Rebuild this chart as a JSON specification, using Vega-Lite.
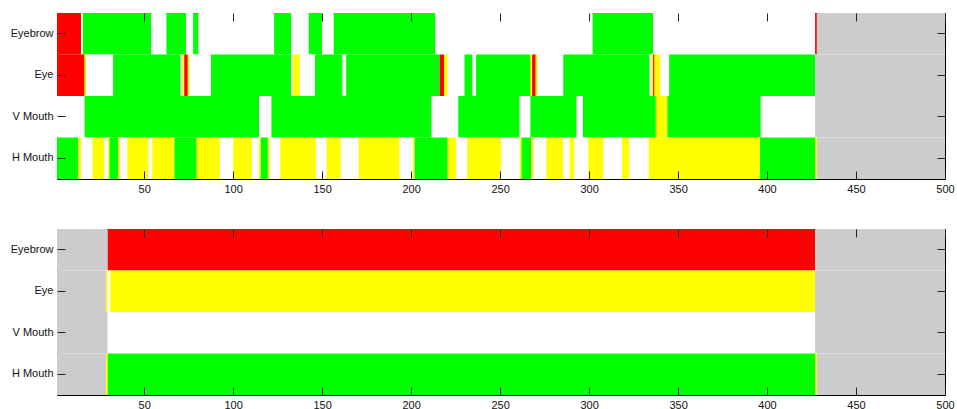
{
  "$schema": "https://vega.github.io/schema/vega-lite/v6.json",
  "background": "white",
  "padding": {"left": 9, "top": 12, "right": 0, "bottom": 0},
  "autosize": {"type": "pad"},
  "bounds": "flush",
  "spacing": 50,
  "config": {
    "view": {"stroke": "#000", "strokeWidth": 1},
    "axis": {
      "labelFont": "Liberation Sans",
      "labelFontSize": 11,
      "labelColor": "#111",
      "tickColor": "#222",
      "tickSize": -8,
      "tickWidth": 1,
      "labelPadding": 12,
      "domain": false,
      "grid": false,
      "title": null
    }
  },
  "datasets": {
    "session_a": [
      {"row": "Eyebrow", "start": 1, "end": 14.5, "state": "red"},
      {"row": "Eyebrow", "start": 14.5, "end": 15.5, "state": "none"},
      {"row": "Eyebrow", "start": 15.5, "end": 54, "state": "green"},
      {"row": "Eyebrow", "start": 54, "end": 62.5, "state": "none"},
      {"row": "Eyebrow", "start": 62.5, "end": 73.5, "state": "green"},
      {"row": "Eyebrow", "start": 73.5, "end": 77.5, "state": "none"},
      {"row": "Eyebrow", "start": 77.5, "end": 80.5, "state": "green"},
      {"row": "Eyebrow", "start": 80.5, "end": 123, "state": "none"},
      {"row": "Eyebrow", "start": 123, "end": 132.5, "state": "green"},
      {"row": "Eyebrow", "start": 132.5, "end": 142.5, "state": "none"},
      {"row": "Eyebrow", "start": 142.5, "end": 150, "state": "green"},
      {"row": "Eyebrow", "start": 150, "end": 156.5, "state": "none"},
      {"row": "Eyebrow", "start": 156.5, "end": 213.5, "state": "green"},
      {"row": "Eyebrow", "start": 213.5, "end": 302, "state": "none"},
      {"row": "Eyebrow", "start": 302, "end": 336, "state": "green"},
      {"row": "Eyebrow", "start": 336, "end": 427, "state": "none"},
      {"row": "Eyebrow", "start": 427, "end": 428, "state": "red"},
      {"row": "Eyebrow", "start": 428, "end": 500, "state": "missing"},

      {"row": "Eye", "start": 1, "end": 16.5, "state": "red"},
      {"row": "Eye", "start": 16.5, "end": 17.5, "state": "yellow"},
      {"row": "Eye", "start": 17.5, "end": 32.5, "state": "none"},
      {"row": "Eye", "start": 32.5, "end": 70.5, "state": "green"},
      {"row": "Eye", "start": 70.5, "end": 71.5, "state": "none"},
      {"row": "Eye", "start": 71.5, "end": 72.5, "state": "yellow"},
      {"row": "Eye", "start": 72.5, "end": 74.5, "state": "red"},
      {"row": "Eye", "start": 74.5, "end": 75.5, "state": "yellow"},
      {"row": "Eye", "start": 75.5, "end": 87.5, "state": "none"},
      {"row": "Eye", "start": 87.5, "end": 132.5, "state": "green"},
      {"row": "Eye", "start": 132.5, "end": 133.5, "state": "none"},
      {"row": "Eye", "start": 133.5, "end": 137.5, "state": "yellow"},
      {"row": "Eye", "start": 137.5, "end": 146, "state": "none"},
      {"row": "Eye", "start": 146, "end": 161.5, "state": "green"},
      {"row": "Eye", "start": 161.5, "end": 163.5, "state": "none"},
      {"row": "Eye", "start": 163.5, "end": 216, "state": "green"},
      {"row": "Eye", "start": 216, "end": 218.5, "state": "red"},
      {"row": "Eye", "start": 218.5, "end": 220.5, "state": "yellow"},
      {"row": "Eye", "start": 220.5, "end": 230, "state": "none"},
      {"row": "Eye", "start": 230, "end": 234.5, "state": "green"},
      {"row": "Eye", "start": 234.5, "end": 236.5, "state": "none"},
      {"row": "Eye", "start": 236.5, "end": 267, "state": "green"},
      {"row": "Eye", "start": 267, "end": 268, "state": "yellow"},
      {"row": "Eye", "start": 268, "end": 270, "state": "red"},
      {"row": "Eye", "start": 270, "end": 271, "state": "yellow"},
      {"row": "Eye", "start": 271, "end": 285.5, "state": "none"},
      {"row": "Eye", "start": 285.5, "end": 334, "state": "green"},
      {"row": "Eye", "start": 334, "end": 335, "state": "none"},
      {"row": "Eye", "start": 335, "end": 336, "state": "yellow"},
      {"row": "Eye", "start": 336, "end": 336.8, "state": "red"},
      {"row": "Eye", "start": 336.8, "end": 340, "state": "yellow"},
      {"row": "Eye", "start": 340, "end": 345, "state": "none"},
      {"row": "Eye", "start": 345, "end": 427, "state": "green"},
      {"row": "Eye", "start": 427, "end": 500, "state": "missing"},

      {"row": "V Mouth", "start": 1, "end": 16.5, "state": "none"},
      {"row": "V Mouth", "start": 16.5, "end": 114.5, "state": "green"},
      {"row": "V Mouth", "start": 114.5, "end": 121.5, "state": "none"},
      {"row": "V Mouth", "start": 121.5, "end": 211.5, "state": "green"},
      {"row": "V Mouth", "start": 211.5, "end": 226.5, "state": "none"},
      {"row": "V Mouth", "start": 226.5, "end": 261, "state": "green"},
      {"row": "V Mouth", "start": 261, "end": 267, "state": "none"},
      {"row": "V Mouth", "start": 267, "end": 293, "state": "green"},
      {"row": "V Mouth", "start": 293, "end": 296.5, "state": "none"},
      {"row": "V Mouth", "start": 296.5, "end": 337.5, "state": "green"},
      {"row": "V Mouth", "start": 337.5, "end": 344, "state": "yellow"},
      {"row": "V Mouth", "start": 344, "end": 396.5, "state": "green"},
      {"row": "V Mouth", "start": 396.5, "end": 427, "state": "none"},
      {"row": "V Mouth", "start": 427, "end": 500, "state": "missing"},

      {"row": "H Mouth", "start": 1, "end": 13, "state": "green"},
      {"row": "H Mouth", "start": 13, "end": 14.5, "state": "yellow"},
      {"row": "H Mouth", "start": 14.5, "end": 21, "state": "none"},
      {"row": "H Mouth", "start": 21, "end": 27.5, "state": "yellow"},
      {"row": "H Mouth", "start": 27.5, "end": 29.5, "state": "none"},
      {"row": "H Mouth", "start": 29.5, "end": 30.5, "state": "yellow"},
      {"row": "H Mouth", "start": 30.5, "end": 35.5, "state": "green"},
      {"row": "H Mouth", "start": 35.5, "end": 36.5, "state": "yellow"},
      {"row": "H Mouth", "start": 36.5, "end": 40.5, "state": "none"},
      {"row": "H Mouth", "start": 40.5, "end": 52.5, "state": "yellow"},
      {"row": "H Mouth", "start": 52.5, "end": 54.5, "state": "none"},
      {"row": "H Mouth", "start": 54.5, "end": 67, "state": "yellow"},
      {"row": "H Mouth", "start": 67, "end": 79.5, "state": "green"},
      {"row": "H Mouth", "start": 79.5, "end": 92.5, "state": "yellow"},
      {"row": "H Mouth", "start": 92.5, "end": 100, "state": "none"},
      {"row": "H Mouth", "start": 100, "end": 110.5, "state": "yellow"},
      {"row": "H Mouth", "start": 110.5, "end": 114.5, "state": "none"},
      {"row": "H Mouth", "start": 114.5, "end": 115.5, "state": "yellow"},
      {"row": "H Mouth", "start": 115.5, "end": 119.5, "state": "green"},
      {"row": "H Mouth", "start": 119.5, "end": 120.5, "state": "yellow"},
      {"row": "H Mouth", "start": 120.5, "end": 126.5, "state": "none"},
      {"row": "H Mouth", "start": 126.5, "end": 146.5, "state": "yellow"},
      {"row": "H Mouth", "start": 146.5, "end": 152.5, "state": "none"},
      {"row": "H Mouth", "start": 152.5, "end": 160.5, "state": "yellow"},
      {"row": "H Mouth", "start": 160.5, "end": 170.5, "state": "none"},
      {"row": "H Mouth", "start": 170.5, "end": 193.5, "state": "yellow"},
      {"row": "H Mouth", "start": 193.5, "end": 201, "state": "none"},
      {"row": "H Mouth", "start": 201, "end": 202, "state": "yellow"},
      {"row": "H Mouth", "start": 202, "end": 220.5, "state": "green"},
      {"row": "H Mouth", "start": 220.5, "end": 225.5, "state": "yellow"},
      {"row": "H Mouth", "start": 225.5, "end": 231.5, "state": "none"},
      {"row": "H Mouth", "start": 231.5, "end": 250.5, "state": "yellow"},
      {"row": "H Mouth", "start": 250.5, "end": 261, "state": "none"},
      {"row": "H Mouth", "start": 261, "end": 262, "state": "yellow"},
      {"row": "H Mouth", "start": 262, "end": 267.5, "state": "green"},
      {"row": "H Mouth", "start": 267.5, "end": 268.5, "state": "yellow"},
      {"row": "H Mouth", "start": 268.5, "end": 276, "state": "none"},
      {"row": "H Mouth", "start": 276, "end": 285.5, "state": "yellow"},
      {"row": "H Mouth", "start": 285.5, "end": 289, "state": "none"},
      {"row": "H Mouth", "start": 289, "end": 291.5, "state": "yellow"},
      {"row": "H Mouth", "start": 291.5, "end": 299.5, "state": "none"},
      {"row": "H Mouth", "start": 299.5, "end": 308, "state": "yellow"},
      {"row": "H Mouth", "start": 308, "end": 318.5, "state": "none"},
      {"row": "H Mouth", "start": 318.5, "end": 322.5, "state": "yellow"},
      {"row": "H Mouth", "start": 322.5, "end": 333.5, "state": "none"},
      {"row": "H Mouth", "start": 333.5, "end": 396, "state": "yellow"},
      {"row": "H Mouth", "start": 396, "end": 427, "state": "green"},
      {"row": "H Mouth", "start": 427, "end": 428, "state": "yellow"},
      {"row": "H Mouth", "start": 428, "end": 500, "state": "missing"}
    ],
    "session_b": [
      {"row": "Eyebrow", "start": 1, "end": 29.5, "state": "missing"},
      {"row": "Eyebrow", "start": 29.5, "end": 427, "state": "red"},
      {"row": "Eyebrow", "start": 427, "end": 500, "state": "missing"},
      {"row": "Eye", "start": 1, "end": 28.5, "state": "missing"},
      {"row": "Eye", "start": 28.5, "end": 29.5, "state": "yellow"},
      {"row": "Eye", "start": 29.5, "end": 31, "state": "none"},
      {"row": "Eye", "start": 31, "end": 427, "state": "yellow"},
      {"row": "Eye", "start": 427, "end": 500, "state": "missing"},
      {"row": "V Mouth", "start": 1, "end": 29.5, "state": "missing"},
      {"row": "V Mouth", "start": 29.5, "end": 427, "state": "none"},
      {"row": "V Mouth", "start": 427, "end": 500, "state": "missing"},
      {"row": "H Mouth", "start": 1, "end": 28.5, "state": "missing"},
      {"row": "H Mouth", "start": 28.5, "end": 29.5, "state": "yellow"},
      {"row": "H Mouth", "start": 29.5, "end": 427, "state": "green"},
      {"row": "H Mouth", "start": 427, "end": 428, "state": "yellow"},
      {"row": "H Mouth", "start": 428, "end": 500, "state": "missing"}
    ]
  },
  "vconcat": [
    {
      "width": 888,
      "height": 166,
      "data": {"name": "session_a"},
      "layer": [
        {
          "mark": {"type": "rect"},
          "encoding": {
            "x": {"field": "start", "type": "quantitative",
                  "scale": {"domain": [1, 500], "nice": false, "zero": false},
                  "axis": null},
            "x2": {"field": "end"},
            "y": {"field": "row", "type": "nominal", "sort": ["Eyebrow", "Eye", "V Mouth", "H Mouth"],
                  "scale": {"paddingInner": 0, "paddingOuter": 0},
                  "axis": null},
            "color": {"field": "state", "type": "nominal",
                      "scale": {"domain": ["red", "yellow", "green", "none", "missing"],
                                "range": ["#ff0000", "#ffff00", "#00ff00", "#ffffff", "#cccccc"]},
                      "legend": null}
          }
        },
        {
          "mark": {"type": "rect", "opacity": 0},
          "encoding": {
            "x": {"field": "start", "type": "quantitative",
                  "axis": {"orient": "bottom", "zindex": 1, "values": [50, 100, 150, 200, 250, 300, 350, 400, 450, 500], "labels": false}},
            "x2": {"field": "end"},
            "y": {"field": "row", "type": "nominal", "sort": ["Eyebrow", "Eye", "V Mouth", "H Mouth"],
                  "axis": {"orient": "left", "zindex": 1, "labels": false}}
          }
        },
        {
          "mark": {"type": "rect", "opacity": 0},
          "encoding": {
            "x": {"field": "start", "type": "quantitative",
                  "axis": {"orient": "top", "zindex": 1, "values": [50, 100, 150, 200, 250, 300, 350, 400, 450, 500], "labels": false}},
            "x2": {"field": "end"},
            "y": {"field": "row", "type": "nominal", "sort": ["Eyebrow", "Eye", "V Mouth", "H Mouth"],
                  "axis": {"orient": "right", "zindex": 1, "labels": false}}
          }
        },
        {
          "mark": {"type": "rect", "opacity": 0},
          "encoding": {
            "x": {"field": "start", "type": "quantitative",
                  "axis": {"orient": "bottom", "ticks": false, "values": [50, 100, 150, 200, 250, 300, 350, 400, 450, 500], "labelFlush": false, "labelPadding": 4}},
            "x2": {"field": "end"},
            "y": {"field": "row", "type": "nominal", "sort": ["Eyebrow", "Eye", "V Mouth", "H Mouth"],
                  "axis": {"orient": "left", "ticks": false, "labelPadding": 4}}
          }
        }
      ],
      "resolve": {"axis": {"x": "independent", "y": "independent"}}
    },
    {
      "width": 888,
      "height": 166,
      "data": {"name": "session_b"},
      "layer": [
        {
          "mark": {"type": "rect"},
          "encoding": {
            "x": {"field": "start", "type": "quantitative",
                  "scale": {"domain": [1, 500], "nice": false, "zero": false},
                  "axis": null},
            "x2": {"field": "end"},
            "y": {"field": "row", "type": "nominal", "sort": ["Eyebrow", "Eye", "V Mouth", "H Mouth"],
                  "scale": {"paddingInner": 0, "paddingOuter": 0},
                  "axis": null},
            "color": {"field": "state", "type": "nominal",
                      "scale": {"domain": ["red", "yellow", "green", "none", "missing"],
                                "range": ["#ff0000", "#ffff00", "#00ff00", "#ffffff", "#cccccc"]},
                      "legend": null}
          }
        },
        {
          "mark": {"type": "rect", "opacity": 0},
          "encoding": {
            "x": {"field": "start", "type": "quantitative",
                  "axis": {"orient": "bottom", "zindex": 1, "values": [50, 100, 150, 200, 250, 300, 350, 400, 450, 500], "labels": false}},
            "x2": {"field": "end"},
            "y": {"field": "row", "type": "nominal", "sort": ["Eyebrow", "Eye", "V Mouth", "H Mouth"],
                  "axis": {"orient": "left", "zindex": 1, "labels": false}}
          }
        },
        {
          "mark": {"type": "rect", "opacity": 0},
          "encoding": {
            "x": {"field": "start", "type": "quantitative",
                  "axis": {"orient": "top", "zindex": 1, "values": [50, 100, 150, 200, 250, 300, 350, 400, 450, 500], "labels": false}},
            "x2": {"field": "end"},
            "y": {"field": "row", "type": "nominal", "sort": ["Eyebrow", "Eye", "V Mouth", "H Mouth"],
                  "axis": {"orient": "right", "zindex": 1, "labels": false}}
          }
        },
        {
          "mark": {"type": "rect", "opacity": 0},
          "encoding": {
            "x": {"field": "start", "type": "quantitative",
                  "axis": {"orient": "bottom", "ticks": false, "values": [50, 100, 150, 200, 250, 300, 350, 400, 450, 500], "labelFlush": false, "labelPadding": 4}},
            "x2": {"field": "end"},
            "y": {"field": "row", "type": "nominal", "sort": ["Eyebrow", "Eye", "V Mouth", "H Mouth"],
                  "axis": {"orient": "left", "ticks": false, "labelPadding": 4}}
          }
        }
      ],
      "resolve": {"axis": {"x": "independent", "y": "independent"}}
    }
  ]
}
